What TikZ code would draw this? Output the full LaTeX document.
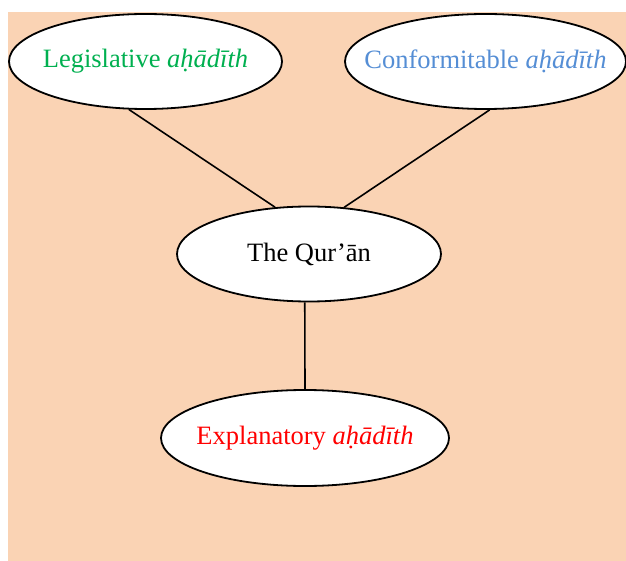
\documentclass[tikz,border=0pt]{standalone}
\usepackage{fontspec}
\setmainfont{Liberation Serif}
\usetikzlibrary{shapes.geometric}
\definecolor{peach}{HTML}{FAD3B4}
\definecolor{leggreen}{HTML}{00B050}
\definecolor{confblue}{HTML}{558ED5}
\definecolor{explred}{HTML}{FF0000}
\tikzset{
  oval/.style={ellipse, draw=black, line width=1.8pt, fill=white, inner sep=0pt,
    font=\fontsize{26.5}{30}\selectfont},
  link/.style={line width=1.6pt, draw=black}
}
\begin{document}
\begin{tikzpicture}[x=1pt,y=-1pt]
\useasboundingbox (0,0) rectangle (626,561);
\clip (0,0) rectangle (626,561);
\fill[peach] (8,12) rectangle (626,561);
\node[oval, minimum width=273pt, minimum height=95pt, text=leggreen] (leg) at (145.5,61.5) {\makebox[0pt]{Legislative \textit{aḥādīth}}};
\node[oval, minimum width=281pt, minimum height=95pt, text=confblue] (conf) at (485.5,61.5) {\makebox[0pt]{Conformitable \textit{aḥādīth}}};
\node[oval, minimum width=264pt, minimum height=95pt] (quran) at (309,254) {\makebox[0pt]{The Qur’ān}};
\node[oval, minimum width=288pt, minimum height=96pt, text=explred] (expl) at (305,438) {\makebox[0pt]{Explanatory \textit{aḥādīth}}};
\draw[link] (leg.-109) -- (quran.126);
\draw[link] (conf.-85) -- (quran.53);
\draw[link] (quran.-95) -- (expl.90);
\end{tikzpicture}
\end{document}
